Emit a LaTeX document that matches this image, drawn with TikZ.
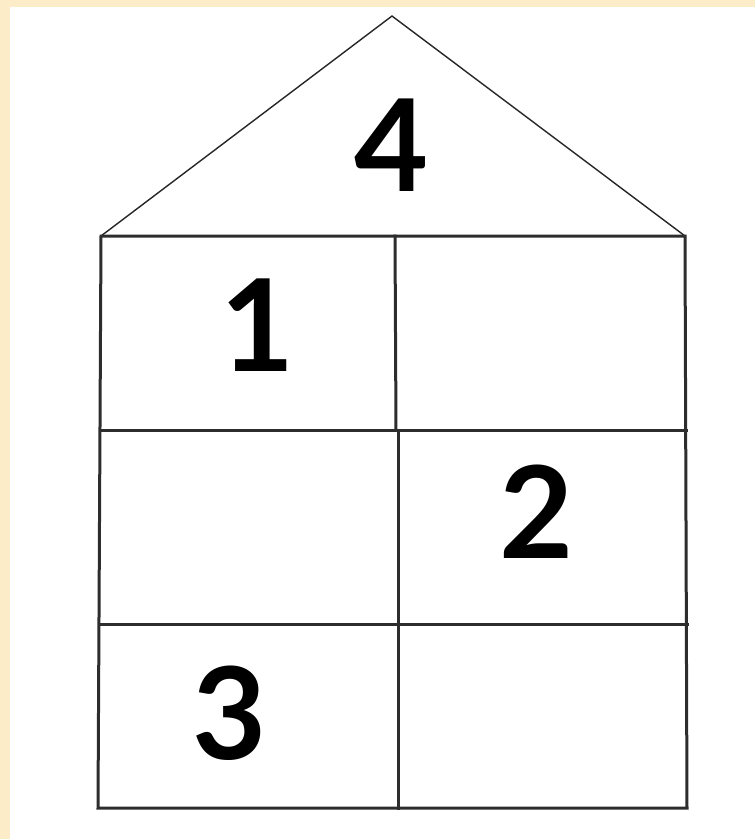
\documentclass[tikz,border=0pt]{standalone}
\usepackage{fontspec}
\setmainfont{Lato}
\usetikzlibrary{positioning}
\definecolor{paper}{RGB}{252,236,200}
\definecolor{inkgray}{RGB}{45,45,45}

\begin{document}
\begin{tikzpicture}[x=1pt, y=-1pt,
  wall/.style={draw=inkgray, line width=3pt, line cap=rect},
  roof/.style={draw=black!85, line width=1.4pt, line join=miter},
  digit/.style={font=\fontsize{128}{128}\bfseries\selectfont, inner sep=0pt}]
% page: cream frame, white sheet
\fill[paper] (0,0) rectangle (755,839);
\fill[white] (10,7) rectangle (755,839);
\useasboundingbox (0,0) rectangle (755,839);
% corners of the house
\coordinate (apex) at (392,16);
\coordinate (eaveL) at (101,236);
\coordinate (eaveR) at (685,236);
\coordinate (baseL) at (98,808);
\coordinate (baseR) at (687,808);
\coordinate (floorAL) at (100,430); \coordinate (floorAR) at (686,430);
\coordinate (floorBL) at (99,624);  \coordinate (floorBR) at (687,624);
\coordinate (midT) at (395,236); \coordinate (midA) at (396,430);
\coordinate (midB) at (398,430); \coordinate (midE) at (398,808);
% roof
\draw[roof] (eaveL) -- (apex) -- (eaveR);
% walls and floors
\draw[wall] (eaveL) -- (eaveR) -- (baseR) -- (baseL) -- cycle;
\draw[wall] (floorAL) -- (floorAR);
\draw[wall] (floorBL) -- (floorBR);
\draw[wall] (midT) -- (midA);
\draw[wall] (midB) -- (midE);
% numbers
\node[digit] (n4) at (392,145) {4};
\node[digit] (n1) at (258,325) {1};
\node[digit] (n2) at (537,512) {2};
\node[digit] (n3) at (230,713) {3};
\end{tikzpicture}
\end{document}
